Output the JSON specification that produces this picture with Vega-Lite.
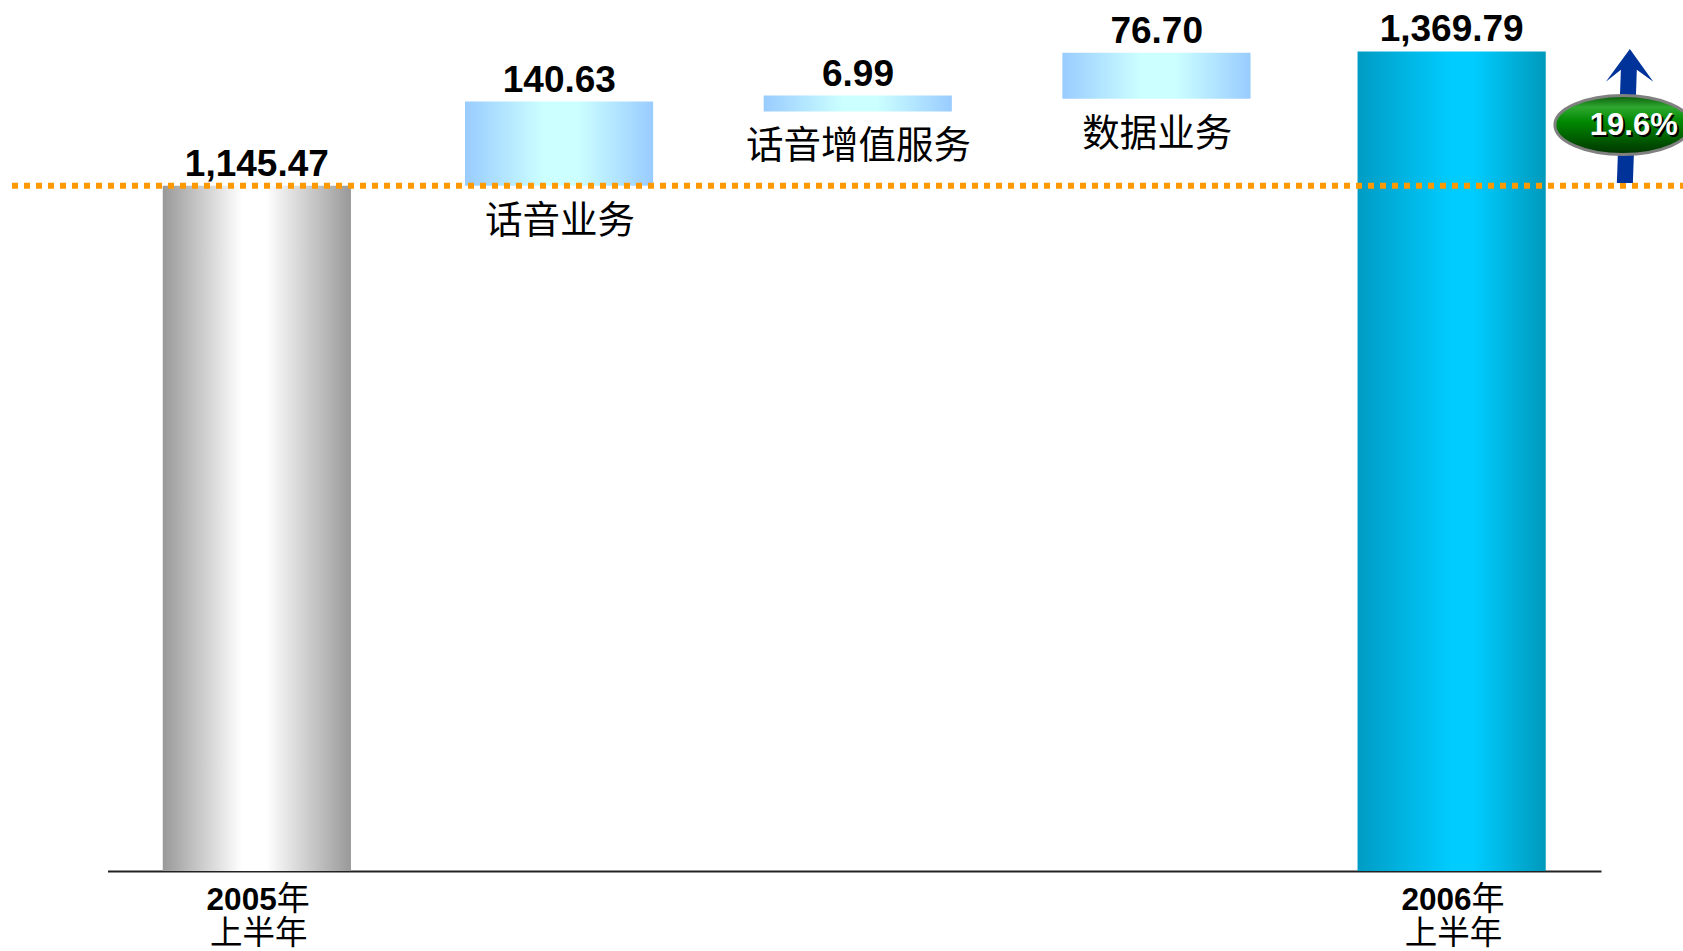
{
"$schema":"https://vega.github.io/schema/vega-lite/v6.json",
"width":1671,"height":871,
"autosize":{"type":"none"},
"padding":{"left":12,"top":0,"right":0,"bottom":80},
"background":"white",
"config":{"view":{"stroke":null}},
"datasets":{
"bars":[
{"category":"2005年上半年","kind":"start","base":0,"top":1145.47,"value":1145.47,"year":"2005","nian":"年","half":"上半年"},
{"category":"话音业务","kind":"step","base":1145.47,"top":1286.1,"value":140.63,"name":"话音业务"},
{"category":"话音增值服务","kind":"step","base":1269.5,"top":1296,"value":6.99,"name":"话音增值服务"},
{"category":"数据业务","kind":"step","base":1290.8,"top":1367.5,"value":76.70,"name":"数据业务"},
{"category":"2006年上半年","kind":"end","base":0,"top":1369.79,"value":1369.79,"year":"2006","nian":"年","half":"上半年"}
],
"growth":[{"category":"2006年上半年","arrowAt":1262,"badgeAt":1247,"growth":"19.6%"}],
"ref":[{"previous":1145.47}]
},
"encoding":{
"x":{"field":"category","type":"nominal","sort":null,
"scale":{"domain":["2005年上半年","话音业务","话音增值服务","数据业务","2006年上半年"],"range":[95.5,1589],"paddingInner":0.37,"paddingOuter":0.185},
"axis":{"title":null,"labels":false,"ticks":false,"grid":false,"domain":true,"domainColor":"#222222","domainWidth":2}}
},
"layer":[
{"transform":[{"filter":"datum.kind==='start'"}],"data":{"name":"bars"},
"mark":{"type":"bar","fill":{"gradient":"linear","x1":0,"y1":0,"x2":1,"y2":0,"stops":[{"offset":0,"color":"#999999"},{"offset":0.42,"color":"#ffffff"},{"offset":0.55,"color":"#ffffff"},{"offset":1,"color":"#999999"}]}},
"encoding":{"y":{"field":"base","type":"quantitative","scale":{"domain":[0,1455.8],"nice":false},"axis":null},"y2":{"field":"top"}}},
{"transform":[{"filter":"datum.kind==='end'"}],"data":{"name":"bars"},
"mark":{"type":"bar","fill":{"gradient":"linear","x1":0,"y1":0,"x2":1,"y2":0,"stops":[{"offset":0,"color":"#009cc4"},{"offset":0.5,"color":"#00ccff"},{"offset":0.62,"color":"#00ccff"},{"offset":1,"color":"#0099bb"}]}},
"encoding":{"y":{"field":"base","type":"quantitative","scale":{"domain":[0,1455.8],"nice":false},"axis":null},"y2":{"field":"top"}}},
{"transform":[{"filter":"datum.kind==='step'"}],"data":{"name":"bars"},
"mark":{"type":"bar","xOffset":3.5,"fill":{"gradient":"linear","x1":0,"y1":0,"x2":1,"y2":0,"stops":[{"offset":0,"color":"#99ccff"},{"offset":0.42,"color":"#ccffff"},{"offset":0.6,"color":"#ccffff"},{"offset":1,"color":"#99ccff"}]}},
"encoding":{"y":{"field":"base","type":"quantitative","scale":{"domain":[0,1455.8],"nice":false},"axis":null},"y2":{"field":"top"}}},
{"data":{"name":"ref"},"mark":{"type":"rule","stroke":"#ff9900","strokeWidth":6,"strokeDash":[6,6]},
"encoding":{"x":{"value":0},"x2":{"value":1671},"y":{"field":"previous","type":"quantitative","scale":{"domain":[0,1455.8],"nice":false},"axis":null}}},
{"transform":[{"filter":"datum.kind!=='step'"}],"data":{"name":"bars"},
"mark":{"type":"text","font":"Liberation Sans","fontWeight":"bold","fontSize":37,"color":"black","baseline":"alphabetic","dy":-10,"align":"center"},
"encoding":{"x":{"field":"category","type":"nominal","bandPosition":0.5},"y":{"field":"top","type":"quantitative","scale":{"domain":[0,1455.8],"nice":false},"axis":null},"text":{"field":"value","type":"quantitative","format":",.2f"}}},
{"transform":[{"filter":"datum.kind==='step'"}],"data":{"name":"bars"},
"mark":{"type":"text","font":"Liberation Sans","fontWeight":"bold","fontSize":37,"color":"black","baseline":"alphabetic","dy":-10,"align":"center"},
"encoding":{"x":{"field":"category","type":"nominal","bandPosition":0.52},"y":{"field":"top","type":"quantitative","scale":{"domain":[0,1455.8],"nice":false},"axis":null},"text":{"field":"value","type":"quantitative","format":",.2f"}}},
{"transform":[{"filter":"datum.kind==='step'"}],"data":{"name":"bars"},
"mark":{"type":"text","font":"Noto Sans CJK SC","fontSize":37.5,"color":"black","baseline":"alphabetic","dy":47,"align":"center"},
"encoding":{"x":{"field":"category","type":"nominal","bandPosition":0.523},"y":{"field":"base","type":"quantitative","scale":{"domain":[0,1455.8],"nice":false},"axis":null},"text":{"field":"name"}}},
{"transform":[{"filter":"datum.kind!=='step'"}],"data":{"name":"bars"},
"mark":{"type":"text","font":"Liberation Sans","fontWeight":"bold","fontSize":31.5,"color":"black","baseline":"alphabetic","dy":39,"dx":17,"align":"right"},
"encoding":{"x":{"field":"category","type":"nominal","bandPosition":0.515},"y":{"datum":0,"type":"quantitative","scale":{"domain":[0,1455.8],"nice":false},"axis":null},"text":{"field":"year"}}},
{"transform":[{"filter":"datum.kind!=='step'"}],"data":{"name":"bars"},
"mark":{"type":"text","font":"Noto Sans CJK SC","fontSize":33,"color":"black","baseline":"alphabetic","dy":39,"dx":17,"align":"left"},
"encoding":{"x":{"field":"category","type":"nominal","bandPosition":0.515},"y":{"datum":0,"type":"quantitative","scale":{"domain":[0,1455.8],"nice":false},"axis":null},"text":{"field":"nian"}}},
{"transform":[{"filter":"datum.kind!=='step'"}],"data":{"name":"bars"},
"mark":{"type":"text","font":"Noto Sans CJK SC","fontSize":32.5,"color":"black","baseline":"alphabetic","dy":73,"align":"center"},
"encoding":{"x":{"field":"category","type":"nominal","bandPosition":0.51},"y":{"datum":0,"type":"quantitative","scale":{"domain":[0,1455.8],"nice":false},"axis":null},"text":{"field":"half"}}},
{"data":{"name":"growth"},
"mark":{"type":"point","filled":true,"size":17956,"opacity":1,"fill":"#003399","stroke":null,"clip":false,
"shape":"M0,-1L0.35,-0.51L0.104,-0.69L0.045,1L-0.194,1L-0.134,-0.69L-0.358,-0.51Z"},
"encoding":{"x":{"field":"category","type":"nominal","bandPosition":1.447},"y":{"field":"arrowAt","type":"quantitative","scale":{"domain":[0,1455.8],"nice":false},"axis":null}}},
{"data":{"name":"growth"},
"mark":{"type":"point","filled":true,"size":18496,"opacity":1,"stroke":"#808080","strokeWidth":3,"clip":false,
"fill":{"gradient":"linear","x1":0,"y1":0,"x2":0,"y2":1,"stops":[{"offset":0,"color":"#0a5a0a"},{"offset":0.2,"color":"#2fa82f"},{"offset":0.45,"color":"#008800"},{"offset":1,"color":"#003300"}]},
"shape":"M-1,0A1,0.434,0,1,1,1,0A1,0.434,0,1,1,-1,0Z"},
"encoding":{"x":{"field":"category","type":"nominal","bandPosition":1.41},"y":{"field":"badgeAt","type":"quantitative","scale":{"domain":[0,1455.8],"nice":false},"axis":null}}},
{"data":{"name":"growth"},
"mark":{"type":"text","font":"Liberation Sans","fontWeight":"bold","fontSize":31,"color":"black","baseline":"alphabetic","dy":12,"dx":2,"align":"center"},
"encoding":{"x":{"field":"category","type":"nominal","bandPosition":1.468},"y":{"field":"badgeAt","type":"quantitative","scale":{"domain":[0,1455.8],"nice":false},"axis":null},"text":{"field":"growth"}}},
{"data":{"name":"growth"},
"mark":{"type":"text","font":"Liberation Sans","fontWeight":"bold","fontSize":31,"color":"white","baseline":"alphabetic","dy":10,"dx":0,"align":"center"},
"encoding":{"x":{"field":"category","type":"nominal","bandPosition":1.468},"y":{"field":"badgeAt","type":"quantitative","scale":{"domain":[0,1455.8],"nice":false},"axis":null},"text":{"field":"growth"}}}
]
}
